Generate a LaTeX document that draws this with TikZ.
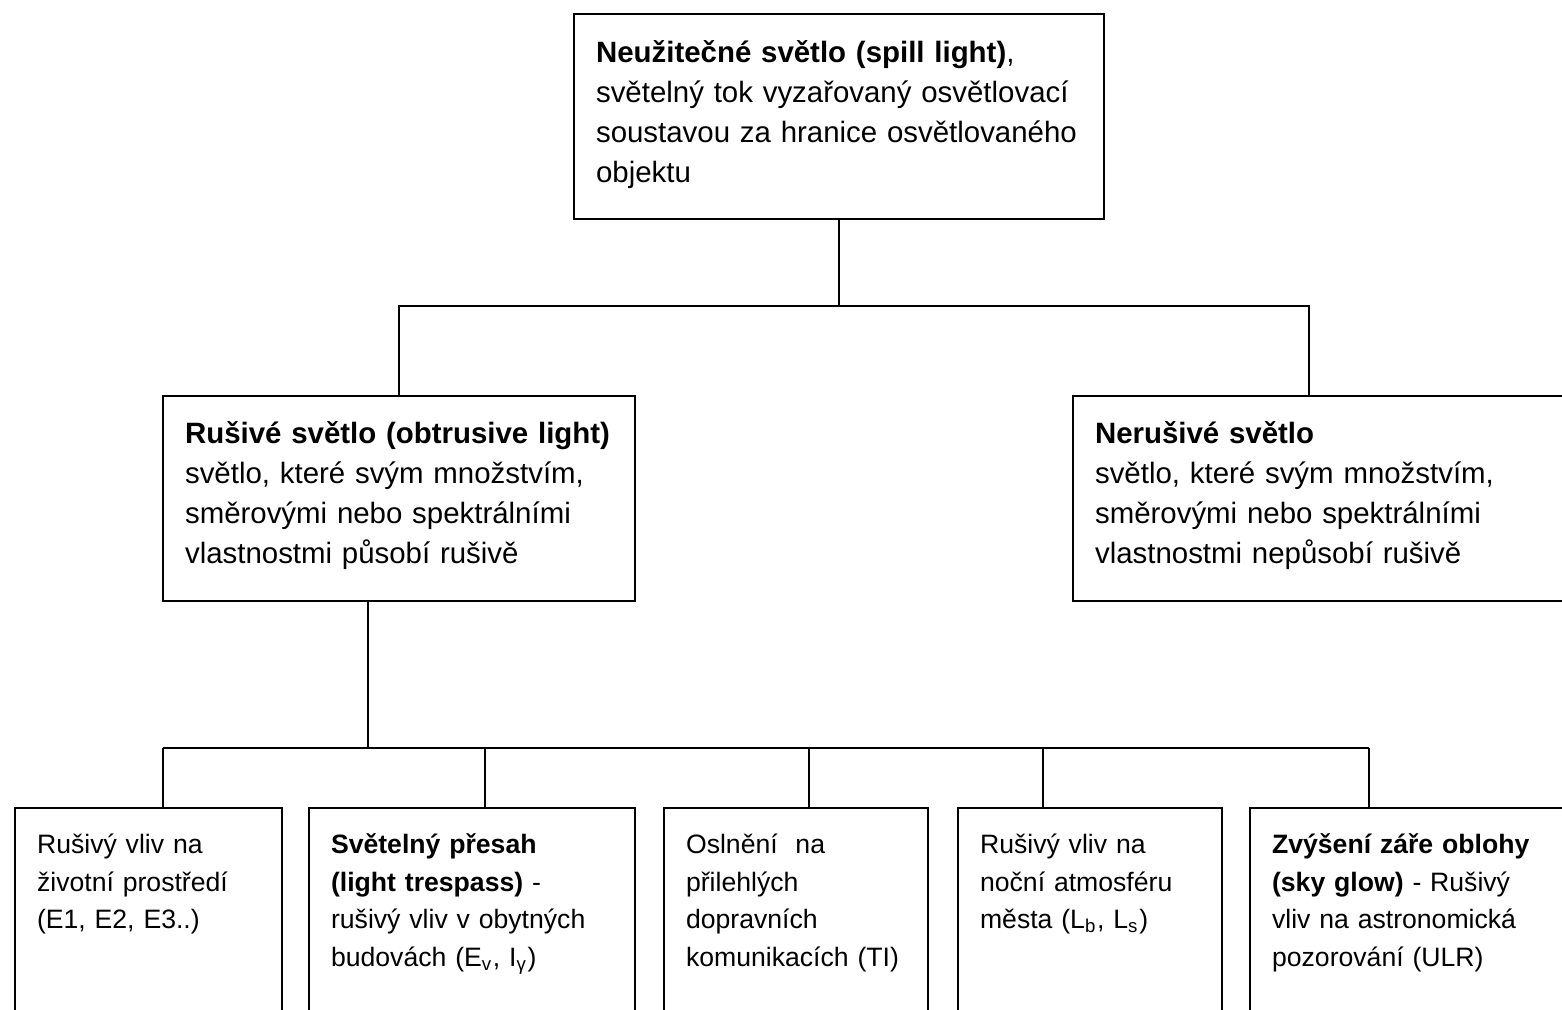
\documentclass[tikz,border=0pt]{standalone}
\usepackage{fontspec}
\setmainfont{Liberation Sans}

\begin{document}
\begin{tikzpicture}[line width=.6pt,
  box/.style={draw,rectangle,anchor=north west,align=left,inner xsep=.22cm,inner ysep=0pt},
  upper/.style={box,font=\fontsize{8.37pt}{11.38pt}\selectfont,text height=.47cm,text depth=1.58cm},
  lower/.style={box,font=\fontsize{7.57pt}{10.8pt}\selectfont,text height=.45cm,text depth=2.6cm}]
  \useasboundingbox (0,0) rectangle (15.62,-10.09);
  \clip (0,0) rectangle (15.62,-10.09);

  \node[upper,text width=4.86cm,text height=.48cm,text depth=1.57cm] (spill) at (5.73,-.13)
    {\textbf{Neužitečné světlo (spill light)},\\světelný tok vyzařovaný osvětlovací\\soustavou za hranice osvětlovaného\\objektu};

  \node[upper,text width=4.28cm] (obtr) at (1.62,-3.95)
    {\textbf{Rušivé světlo (obtrusive light)}\\světlo, které svým množstvím,\\směrovými nebo spektrálními\\vlastnostmi působí rušivě};
  \node[upper,text width=4.6cm] (nonobtr) at (10.72,-3.95)
    {\textbf{Nerušivé světlo}\\světlo, které svým množstvím,\\směrovými nebo spektrálními\\vlastnostmi nepůsobí rušivě};

  \node[lower,text width=2.23cm] (env) at (.14,-8.07)
    {Rušivý vliv na\\životní prostředí\\(E1, E2, E3..)};
  \node[lower,text width=2.82cm] (trespass) at (3.08,-8.07)
    {\textbf{Světelný přesah}\\\textbf{(light trespass)} -\\rušivý vliv v obytných\\budovách (E\textsubscript{v}, I\textsubscript{γ})};
  \node[lower,text width=2.20cm] (glare) at (6.63,-8.07)
    {Oslnění\ \ na\\přilehlých\\dopravních\\komunikacích (TI)};
  \node[lower,text width=2.20cm] (city) at (9.57,-8.07)
    {Rušivý vliv na\\noční atmosféru\\města (L\textsubscript{b}, L\textsubscript{s})};
  \node[lower,text width=3.2cm] (skyglow) at (12.49,-8.07)
    {\textbf{Zvýšení záře oblohy}\\\textbf{(sky glow)} - Rušivý\\vliv na astronomická\\pozorování (ULR)};

  \coordinate (split) at (13.09,-3.06);
  \draw (spill.south) -- (spill.south |- split);
  \draw (obtr.north) |- (split) -- (split |- nonobtr.north);

  \coordinate (hub) at (3.68,-7.48);
  \draw (hub |- obtr.south) -- (hub);
  \foreach \n/\x in {env/1.63,trespass/4.85,glare/8.09,city/10.43,skyglow/13.69}{
    \coordinate (t\n) at (\x,-7.48);
    \draw (t\n) -- (t\n |- \n.north);
  }
  \draw (tenv) -- (tskyglow);
\end{tikzpicture}
\end{document}
